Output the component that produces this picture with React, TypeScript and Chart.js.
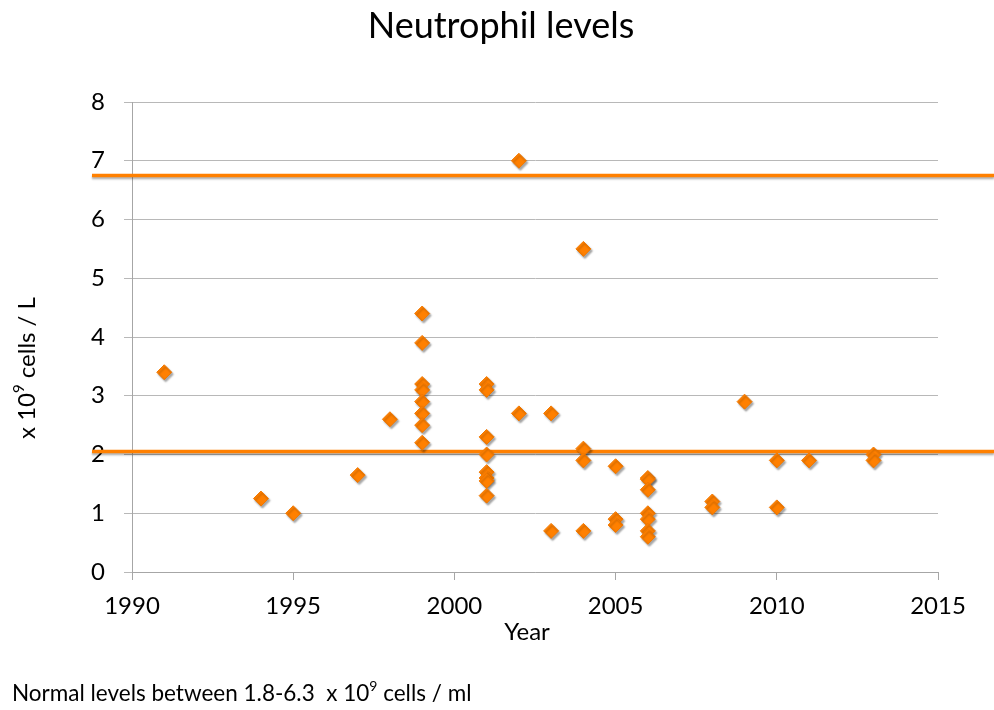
import React, { useEffect, useRef } from "react";
import { Chart, registerables } from "chart.js";

Chart.register(...registerables);

const years = [
  1991, 1994, 1995, 1997, 1998,
  1999, 1999, 1999, 1999, 1999, 1999, 1999, 1999,
  2001, 2001, 2001, 2001, 2001, 2001, 2001, 2001,
  2002, 2002, 2003, 2003,
  2004, 2004, 2004, 2004,
  2005, 2005, 2005,
  2006, 2006, 2006, 2006, 2006, 2006, 2006,
  2008, 2008, 2009, 2010, 2010, 2011, 2013, 2013,
];
const neutrophils = [
  3.4, 1.25, 1.0, 1.65, 2.6,
  4.4, 3.9, 3.2, 3.1, 2.9, 2.7, 2.5, 2.2,
  3.2, 3.1, 2.3, 2.0, 1.7, 1.6, 1.55, 1.3,
  7.0, 2.7, 2.7, 0.7,
  5.5, 2.1, 1.9, 0.7,
  1.8, 0.9, 0.8,
  1.6, 1.58, 1.4, 1.0, 0.9, 0.7, 0.6,
  1.2, 1.1, 2.9, 1.9, 1.1, 1.9, 2.0, 1.9,
];
const referenceLines = [6.75, 2.05];
const xTicks = [1990, 1995, 2000, 2005, 2010, 2015];
const yTicks = [0, 1, 2, 3, 4, 5, 6, 7, 8];

const FONT = "Lato, 'Open Sans', sans-serif";
const ORANGE = "#ff8000";

function drawSup(ctx: CanvasRenderingContext2D, parts: [string, string, string], size: number, x: number, y: number, align: "center" | "left") {
  const base = `${size}px ${FONT}`;
  const small = `${Math.round(size * 0.62)}px ${FONT}`;
  ctx.font = base;
  const w0 = ctx.measureText(parts[0]).width;
  const w2 = ctx.measureText(parts[2]).width;
  ctx.font = small;
  const w1 = ctx.measureText(parts[1]).width;
  const total = w0 + w1 + w2;
  let sx = align === "center" ? x - total / 2 : x;
  ctx.textAlign = "left";
  ctx.textBaseline = "middle";
  ctx.font = base;
  ctx.fillText(parts[0], sx, y);
  sx += w0;
  ctx.font = small;
  ctx.fillText(parts[1], sx, y - size * 0.33);
  sx += w1;
  ctx.font = base;
  ctx.fillText(parts[2], sx, y);
}

const decorPlugin = {
  id: "decor",
  beforeDatasetsDraw(chart: any) {
    const { ctx, chartArea, scales } = chart;
    ctx.save();
    ctx.strokeStyle = ORANGE;
    ctx.lineWidth = 3.5;
    ctx.shadowColor = "rgba(0,0,0,0.3)";
    ctx.shadowOffsetY = 2;
    ctx.shadowBlur = 2;
    referenceLines.forEach((v) => {
      const y = scales.y.getPixelForValue(v);
      ctx.beginPath();
      ctx.moveTo(chartArea.left - 40, y);
      ctx.lineTo(chart.width, y);
      ctx.stroke();
    });
    ctx.restore();
    ctx.save();
    ctx.shadowColor = "rgba(0,0,0,0.35)";
    ctx.shadowOffsetX = 1.5;
    ctx.shadowOffsetY = 2;
    ctx.shadowBlur = 2;
  },
  afterDatasetsDraw(chart: any) {
    chart.ctx.restore();
  },
  afterDraw(chart: any) {
    const { ctx } = chart;
    ctx.save();
    ctx.fillStyle = "#000";
    ctx.textAlign = "center";
    ctx.textBaseline = "middle";
    ctx.font = `36px ${FONT}`;
    ctx.fillText("Neutrophil levels", 501, 26);
    ctx.font = `24px ${FONT}`;
    ctx.fillText("Year", 527, 632);
    ctx.save();
    ctx.translate(27, 368);
    ctx.rotate(-Math.PI / 2);
    drawSup(ctx, ["x 10", "9", " cells / L"], 24, 0, 0, "center");
    ctx.restore();
    drawSup(ctx, ["Normal levels between 1.8-6.3  x 10", "9", " cells / ml"], 22.5, 12, 694, "left");
    ctx.restore();
  },
};

export default function App() {
  const ref = useRef<HTMLCanvasElement>(null);
  useEffect(() => {
    document.body.style.margin = "0";
    const chart = new Chart(ref.current!, {
      type: "scatter",
      data: {
        datasets: [
          {
            data: years.map((yr, i) => ({ x: yr, y: neutrophils[i] })),
            pointStyle: "rectRot",
            pointRadius: 7.5,
            backgroundColor: ORANGE,
            borderColor: "#f07800",
            borderWidth: 1,
          },
        ],
      },
      options: {
        responsive: false,
        animation: false,
        layout: { padding: { left: 0, top: 102, right: 56, bottom: 78 } },
        plugins: { legend: { display: false }, tooltip: { enabled: false } },
        scales: {
          x: {
            type: "linear",
            min: 1990,
            max: 2015,
            afterFit: (s: any) => { s.height = 60; },
            afterBuildTicks: (s: any) => { s.ticks = xTicks.map((v) => ({ value: v })); },
            ticks: {
              callback: (v: any) => String(v),
              font: { family: FONT, size: 24 },
              color: "#000",
              padding: 12,
            },
            grid: { drawOnChartArea: false, drawTicks: true, tickLength: 8, color: "#a6a6a6" },
            border: { color: "#a6a6a6" },
          },
          y: {
            min: 0,
            max: 8,
            afterFit: (s: any) => { s.width = 132; },
            afterBuildTicks: (s: any) => { s.ticks = yTicks.map((v) => ({ value: v })); },
            ticks: {
              font: { family: FONT, size: 24 },
              color: "#000",
              padding: 19,
            },
            grid: { color: "#b8b8b8", tickLength: 8 },
            border: { color: "#a6a6a6" },
          },
        },
      },
      plugins: [decorPlugin],
    });
    return () => chart.destroy();
  }, []);
  return (
    <div style={{ width: 994, height: 710, background: "#fff" }}>
      <canvas ref={ref} width={994} height={710} />
    </div>
  );
}
